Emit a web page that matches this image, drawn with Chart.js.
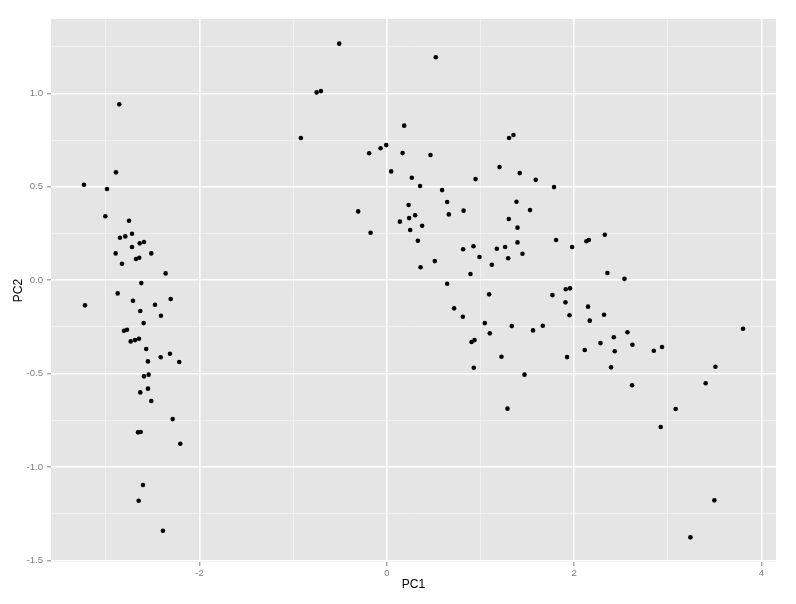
<!DOCTYPE html>
<html>
<head>
<meta charset="utf-8">
<script src="https://cdn.jsdelivr.net/npm/chart.js@4/dist/chart.umd.min.js"></script>
<style>
  html, body { margin: 0; padding: 0; background: #ffffff; }
  #wrap { width: 796px; height: 604px; }
</style>
</head>
<body>
<div id="wrap"><canvas id="pca" width="796" height="604"></canvas></div>
<script>
  'use strict';

  // ---------------------------------------------------------------------------
  // DATA
  // ---------------------------------------------------------------------------

  const pc1 = [
    -2.857, -2.892, -3.234, -2.988, -3.006, -2.753, -2.850, -2.793, -2.721, -2.721,
    -2.639, -2.593, -2.895, -2.515, -2.828, -2.679, -2.644, -2.362, -2.622, -2.874,
    -3.223, -2.711, -2.308, -2.476, -2.633, -2.412, -2.597, -2.807, -2.775, -2.735,
    -2.689, -2.647, -2.569, -2.316, -2.415, -2.551, -2.217, -2.593, -2.543, -2.551,
    -2.633, -2.515, -2.287, -2.657, -2.629, -2.206, -2.604, -2.650, -2.391,
    -0.509, 0.523, -0.750, -0.704, 0.185, -0.918, -0.007, -0.067, -0.189, 0.168,
    0.466, 0.046, 0.267, 0.355, 0.590, 0.644, 0.232, -0.306, 0.819, 0.662,
    0.238, 0.302, 0.139, -0.174, 0.377, 0.249, 0.331, 0.814, 0.512, 0.360,
    0.644, 0.718, 0.811, 1.352, 1.305, 1.203, 1.419, 0.947, 1.590, 1.785,
    1.384, 1.529, 1.302, 1.395, 0.925, 1.174, 1.263, 1.395, 1.807, 1.978,
    2.131, 2.156, 0.989, 1.295, 1.448, 1.121, 0.893, 1.092, 1.768, 1.910,
    1.956, 1.907, 2.148, 1.950, 2.166, 1.046, 1.334, 1.665, 1.561, 1.099,
    0.904, 0.936, 2.113, 1.224, 1.924, 0.928, 1.470, 1.288, 2.327, 2.355,
    2.537, 2.319, 3.803, 2.569, 2.423, 2.281, 2.433, 2.622, 2.850, 2.938,
    2.394, 3.508, 2.618, 3.404, 3.084, 2.924, 3.497, 3.241,
  ];

  const pc2 = [
    0.941, 0.577, 0.511, 0.488, 0.342, 0.318, 0.227, 0.234, 0.248, 0.177,
    0.197, 0.204, 0.143, 0.143, 0.088, 0.113, 0.120, 0.036, -0.016, -0.071,
    -0.135, -0.110, -0.101, -0.132, -0.165, -0.191, -0.230, -0.271, -0.266, -0.328,
    -0.321, -0.314, -0.369, -0.394, -0.413, -0.435, -0.438, -0.515, -0.506, -0.581,
    -0.601, -0.647, -0.744, -0.815, -0.813, -0.876, -1.097, -1.181, -1.342,
    1.266, 1.193, 1.005, 1.012, 0.827, 0.761, 0.723, 0.706, 0.679, 0.680,
    0.670, 0.582, 0.548, 0.504, 0.482, 0.418, 0.402, 0.368, 0.372, 0.352,
    0.332, 0.347, 0.313, 0.254, 0.291, 0.268, 0.211, 0.165, 0.102, 0.069,
    -0.019, -0.151, -0.196, 0.777, 0.761, 0.605, 0.573, 0.541, 0.537, 0.498,
    0.420, 0.375, 0.327, 0.281, 0.181, 0.168, 0.177, 0.202, 0.215, 0.177,
    0.208, 0.215, 0.124, 0.117, 0.141, 0.082, 0.033, -0.076, -0.080, -0.049,
    -0.044, -0.119, -0.142, -0.188, -0.217, -0.230, -0.246, -0.244, -0.269, -0.285,
    -0.331, -0.321, -0.374, -0.410, -0.412, -0.469, -0.506, -0.688, 0.243, 0.038,
    0.007, -0.185, -0.260, -0.279, -0.306, -0.337, -0.381, -0.346, -0.378, -0.358,
    -0.467, -0.464, -0.563, -0.552, -0.690, -0.786, -1.179, -1.377,
  ];

  const xMajorTicks = [-2, 0, 2, 4];
  const xMinorTicks = [-3, -1, 1, 3];
  const yMajorTicks = [-1.5, -1.0, -0.5, 0.0, 0.5, 1.0];
  const yMinorTicks = [-1.25, -0.75, -0.25, 0.25, 0.75, 1.25];
  const xLimits = [-3.586, 4.155];
  const yLimits = [-1.509, 1.398];

  // ---------------------------------------------------------------------------
  // STYLE
  // ---------------------------------------------------------------------------

  const PANEL_BG = '#E5E5E5';
  const GRID_MAJOR = '#FFFFFF';
  const GRID_MINOR = '#F2F2F2';
  const TICK_GREY = '#7F7F7F';
  const FONT = '"Liberation Sans", Arial, Helvetica, sans-serif';

  const panelBackground = {
    id: 'panelBackground',
    beforeDraw(chart) {
      const { ctx, chartArea: a } = chart;
      ctx.save();
      ctx.fillStyle = PANEL_BG;
      ctx.fillRect(a.left, a.top, a.right - a.left, a.bottom - a.top);
      ctx.restore();
    },
  };

  function isMajor(list, v) {
    return list.some(m => Math.abs(m - v) < 1e-9);
  }

  function buildAxis(major, minor, limits, title, fmt, isX) {
    return {
      type: 'linear',
      min: limits[0],
      max: limits[1],
      afterBuildTicks(axis) {
        axis.ticks = major.concat(minor).sort((a, b) => a - b).map(v => ({ value: v }));
      },
      afterFit(axis) {
        if (isX) axis.height = 42;
        else axis.width = 51;
      },
      grid: {
        color: c => isMajor(major, c.tick.value) ? GRID_MAJOR : GRID_MINOR,
        lineWidth: c => isMajor(major, c.tick.value) ? 1.6 : 0.8,
        tickColor: c => isMajor(major, c.tick.value) ? TICK_GREY : 'rgba(0,0,0,0)',
        tickWidth: 1,
        tickLength: 4,
        drawTicks: true,
      },
      border: { display: false },
      ticks: {
        autoSkip: false,
        maxRotation: 0,
        padding: isX ? 2 : 4,
        color: TICK_GREY,
        font: { family: FONT, size: 9.6 },
        callback: v => isMajor(major, v) ? fmt(v) : '',
      },
      title: {
        display: true,
        text: title,
        color: '#000000',
        font: { family: FONT, size: 12 },
        padding: isX ? { top: 0, bottom: 12 } : { top: 11, bottom: 0 },
      },
    };
  }

  new Chart(document.getElementById('pca'), {
    type: 'scatter',
    data: {
      datasets: [{
        data: pc1.map((x, i) => ({ x: x, y: pc2[i] })),
        backgroundColor: '#000000',
        borderWidth: 0,
        pointRadius: 2.3,
      }],
    },
    options: {
      responsive: false,
      animation: false,
      layout: { padding: { top: 19, right: 20, left: 0, bottom: 0 } },
      plugins: {
        legend: { display: false },
        tooltip: { enabled: false },
      },
      scales: {
        x: buildAxis(xMajorTicks, xMinorTicks, xLimits, 'PC1', v => String(v), true),
        y: buildAxis(yMajorTicks, yMinorTicks, yLimits, 'PC2', v => v.toFixed(1), false),
      },
    },
    plugins: [panelBackground],
  });
</script>
</body>
</html>
